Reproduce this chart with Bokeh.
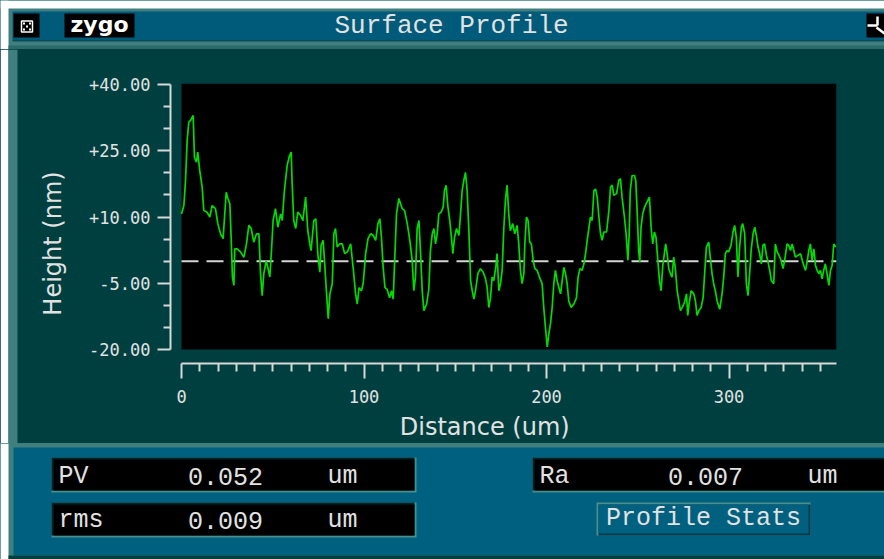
import math
from bokeh.plotting import figure
from bokeh.models import Range1d, FixedTicker, BoxAnnotation
from bokeh.layouts import column, row
from bokeh.embed import file_html
from bokeh.resources import INLINE
from bokeh.core.properties import value

# ------------------------------------------------------------------ data
distance_um = [
    0.0, 1.3, 2.2, 3.1, 4.0, 5.0, 6.4, 7.1, 8.2, 8.9, 10.0, 11.3, 12.2, 14.0, 15.5,
    16.8, 18.6, 19.9, 21.4, 22.8, 24.5, 25.4, 26.5, 27.2, 27.9, 28.7, 29.2, 30.5,
    32.3, 34.2, 35.6, 36.9, 38.2, 39.6, 41.1, 42.4, 43.3, 44.2, 45.1, 46.4, 47.3,
    48.4, 49.3, 50.2, 51.5, 52.8, 54.3, 55.2, 56.4, 57.9, 59.0, 60.1, 60.6, 61.5,
    62.6, 63.7, 65.2, 66.5, 68.0, 69.2, 70.3, 71.0, 72.5, 73.6, 74.7, 75.8, 76.5,
    77.6, 78.4, 79.5, 80.4, 81.3, 82.6, 83.5, 84.4, 85.3, 86.6, 88.1, 89.4, 90.9,
    92.7, 94.2, 95.4, 96.3, 97.3, 98.6, 99.6, 100.9, 102.2, 103.7, 105.1, 106.4,
    107.6, 108.7, 109.6, 110.5, 111.5, 112.7, 114.0, 115.1, 116.0, 116.7, 117.8,
    119.1, 120.9, 122.2, 123.7, 125.1, 126.4, 127.3, 128.2, 129.1, 130.1, 131.0,
    131.9, 132.8, 134.3, 135.5, 136.4, 137.4, 138.3, 139.2, 140.1, 141.0, 142.3,
    143.4, 144.1, 145.0, 145.9, 147.0, 147.9, 148.7, 149.6, 150.7, 152.0, 152.9,
    153.8, 154.7, 155.6, 156.5, 157.5, 158.4, 159.3, 160.2, 161.1, 162.4, 163.8,
    165.3, 166.6, 167.5, 168.4, 169.3, 170.2, 171.1, 172.2, 172.9, 173.9, 174.8,
    175.7, 176.6, 177.5, 178.4, 179.3, 180.2, 181.5, 182.6, 183.9, 184.8, 185.7,
    186.6, 187.6, 188.1, 189.0, 189.9, 190.8, 191.7, 192.7, 193.6, 194.9, 196.1,
    197.6, 198.5, 199.4, 200.4, 201.3, 202.2, 203.1, 204.0, 204.9, 205.8, 206.8,
    207.7, 208.6, 209.5, 210.4, 211.3, 212.2, 213.5, 215.0, 216.4, 217.3, 218.3,
    219.5, 220.5, 221.4, 222.3, 223.2, 224.1, 225.0, 226.0, 226.9, 227.8, 228.7,
    229.6, 230.5, 231.4, 232.9, 234.2, 235.1, 236.0, 236.9, 238.4, 239.6, 240.5,
    241.4, 242.7, 243.6, 244.6, 245.3, 245.9, 246.9, 248.2, 248.9, 249.6, 250.5,
    251.1, 251.8, 252.7, 253.8, 255.1, 256.4, 257.3, 258.2, 259.1, 260.0, 261.0,
    261.9, 262.8, 263.7, 264.6, 265.3, 266.1, 267.0, 267.9, 268.8, 269.7, 270.6,
    271.6, 272.5, 273.4, 274.3, 275.6, 276.7, 277.4, 278.2, 279.3, 280.7, 281.6,
    282.5, 283.5, 284.7, 285.8, 286.7, 287.6, 288.9, 289.8, 290.7, 291.6, 292.5,
    293.5, 294.9, 296.2, 297.1, 298.0, 298.9, 299.8, 301.1, 302.2, 303.1, 304.0,
    304.9, 305.8, 306.8, 307.5, 308.6, 309.5, 310.4, 311.3, 312.2, 313.2, 314.1,
    315.0, 315.9, 316.8, 317.7, 318.6, 319.5, 320.5, 321.4, 322.3, 323.2, 324.5,
    325.4, 326.4, 327.4, 328.5, 329.6, 330.5, 331.8, 332.7, 333.7, 334.6, 335.5,
    336.4, 337.7, 339.2, 340.1, 341.0, 341.9, 342.8, 343.7, 344.6, 345.5, 346.5,
    347.4, 348.3, 349.2, 350.1, 351.0, 351.9, 352.8, 353.7, 354.7, 355.6, 356.5,
    357.4, 358.5,
]
height_nm = [
    10.7, 12.6, 18.3, 27.3, 31.5, 31.9, 33.0, 23.5, 22.4, 24.7, 20.5, 16.8, 11.5, 11.1, 10.0,
    12.6, 11.9, 8.5, 6.2, 5.1, 15.6, 14.2, 13.0, 5.4, -3.6, -5.5, 2.8, 2.8,
    2.1, 0.9, 3.9, 8.1, 7.4, 4.3, 6.2, 6.2, -2.8, -7.8, -2.8, 0.1, -1.4,
    -3.6, 2.4, 9.2, 11.9, 7.7, 10.7, 9.2, 16.0, 21.7, 23.6, 24.7, 17.9, 9.2,
    7.4, 11.1, 10.4, 9.2, 14.5, 6.9, 3.9, 2.4, 9.2, 9.6, 1.7, -2.5, 3.6,
    4.7, -0.2, -7.4, -13.0, -7.4, -5.1, 6.2, 7.4, 3.2, 3.9, 3.9, 1.7, 2.1,
    3.9, -2.1, -7.4, -9.7, -6.0, -6.7, -4.9, 1.7, 5.1, 6.2, 5.8, 4.7,
    8.4, 9.6, 5.1, -1.4, -6.0, -6.4, -8.3, -6.7, -8.6, -1.0, 10.7,
    14.2, 11.9, 11.5, 8.5, 4.7, 0.2, -6.7, -3.6, 7.4, 9.2, 1.7,
    -6.7, -11.2, -9.7, -6.4, 2.4, 6.2, 7.4, 3.9, 6.2, 10.7, 11.1,
    12.3, 16.0, 17.2, 12.6, 9.2, 5.4, 1.7, 5.4, 7.4, 5.8, 10.7,
    16.0, 18.3, 20.1, 16.0, 6.6, -4.4, -6.7, -8.6, -6.7, -2.8, -1.7,
    -2.5, -4.0, -6.0, -10.5, -8.3, -3.6, -4.4, -1.4, 1.7, -6.7, -5.1,
    -2.1, 7.4, 13.8, 17.2, 10.7, 6.9, 8.5, 6.2, 8.1, 3.9, -2.1,
    -5.1, -2.8, 3.6, 10.0, 9.2, 4.3, 3.9, 0.2, -1.7, -2.1, -3.6,
    -5.1, -10.5, -14.9, -19.4, -16.4, -14.1, -10.5, -5.1, -2.1, -4.4, -6.0,
    -7.4, -4.4, -1.4, -2.8, -5.1, -9.0, -10.5, -9.7, -8.3, -3.6, -1.7,
    -2.1, -0.6, 1.7, 4.7, 7.4, 10.0, 9.2, 16.0, 16.3, 14.5, 10.0,
    6.2, 4.7, 6.6, 6.6, 11.5, 16.8, 17.2, 14.9, 15.3, 18.3, 18.7,
    14.5, 10.0, 6.2, 0.2, 6.2, 16.0, 19.4, 19.4, 18.3, 11.9, 2.4,
    -0.2, 7.7, 10.7, 12.3, 13.4, 14.5, 7.7, 3.9, 6.6, 5.4, 0.2,
    -4.4, -6.7, -1.0, 1.7, 3.9, 1.7, -1.7, -2.8, -3.6, 0.9, -1.7,
    -6.7, -9.0, -11.2, -10.5, -9.4, -7.4, -12.3, -9.4, -6.7, -7.4, -9.0,
    -12.3, -11.2, -10.5, -8.3, -2.5, 3.2, 4.3, 0.6, -2.8, -5.1, -6.7,
    -9.0, -10.9, -7.4, -3.6, 1.7, 2.4, 2.1, 3.6, 6.6, 8.1, 5.4,
    -3.6, 3.2, 7.7, 8.5, 6.2, -5.1, -7.8, -2.8, 2.8, 6.2, 7.7,
    5.8, 3.2, 1.7, -0.6, 3.6, 3.9, 1.3, -0.2, -2.1, -4.4, -5.1,
    3.9, 2.1, 1.3, 0.2, -1.7, 0.2, 3.9, 3.6, 2.4, 3.9, 2.4,
    0.9, 1.3, 1.7, 0.2, -1.0, -2.1, -0.2, 2.4, 3.9, 0.2, 2.8,
    -1.0, -2.1, -2.8, -2.1, -4.0, -2.1, -0.6, -2.8, -5.5, -2.1, -1.0,
    3.9, 3.2,
]
mean_height_nm = 0.0
profile_length_um = 358.9

y_major_ticks = [-20, -5, 10, 25, 40]
y_tick_labels = ["-20.00", "-5.00", "+10.00", "+25.00", "+40.00"]
y_minor_ticks = [-15, -10, 0, 5, 15, 20, 30, 35]
x_major_ticks = [0, 100, 200, 300]
x_tick_labels = ["0", "100", "200", "300"]
x_minor_ticks = [10, 20, 30, 40, 50, 60, 70, 80, 90, 110, 120, 130, 140, 150, 160,
                 170, 180, 190, 210, 220, 230, 240, 250, 260, 270, 280, 290, 310,
                 320, 330, 340, 350]

window_title = "Surface Profile"
y_label = "Height (nm)"
x_label = "Distance (um)"
stat_names = ["PV", "rms", "Ra"]
stat_values = ["0.052", "0.009", "0.007"]
stat_units = ["um", "um", "um"]
button_text = "Profile Stats"

# ------------------------------------------------------------------ style
WHITE = "#ffffff"
TEAL_LIGHT = "#3f7f7f"
TEAL_MED = "#2a6a6a"
TEAL_DARK = "#003f40"
BLUE_TITLE = "#005a7a"
BLUE_PANEL = "#00607f"
TXT = "#e2e2e2"
AXC = "#d8d8d8"
MONO = "Liberation Mono"
SANS = "DejaVu Sans"

W = 884


def chrome_fig(w, h, x0, x1, y_top, y_bot, bg):
    f = figure(width=w, height=h, x_range=Range1d(x0, x1), y_range=Range1d(y_bot, y_top),
               toolbar_location=None, output_backend="svg", min_border=0,
               x_axis_location=None, y_axis_location=None, title=None)
    f.grid.visible = False
    f.outline_line_color = None
    f.background_fill_color = bg
    f.border_fill_color = None
    f.styles = {"background-color": bg}
    return f


def box(f, l, r, t, b, color):
    f.quad(left=[l], right=[r], top=[t], bottom=[b], fill_color=color, line_color=None)


def mono_text(f, x, y, s, align, size="25px", color=TXT):
    f.text(x=[x], y=[y], text=[s], text_font=value(MONO), text_font_size=size,
           text_color=color, text_align=align, text_baseline="middle")


# ------------------------------------------------------------------ title bar (y 0..49)
top = chrome_fig(W, 49, 0, 884, 0, 49, TEAL_LIGHT)
box(top, 0, 884, 0, 8, WHITE)
box(top, 0, 8, 0, 49, WHITE)
box(top, 12, 884, 11, 39.5, BLUE_TITLE)
box(top, 12, 884, 39.5, 41, "#0d4a58")
box(top, 8, 884, 45, 49, TEAL_MED)
box(top, 13, 39, 13, 37, "#000000")
box(top, 64, 134, 13, 37, "#000000")
box(top, 866, 884, 13, 37, "#000000")
top.quad(left=[21], right=[32], top=[20.5], bottom=[31.5], fill_color=None,
         line_color=WHITE, line_width=1.5)
top.quad(left=[22.5, 28.5, 25.5, 22.5, 28.5], right=[24.5, 30.5, 27.5, 24.5, 30.5],
         top=[22, 22, 25, 28, 28], bottom=[24, 24, 27, 30, 30],
         fill_color=WHITE, line_color=None)
top.text(x=[99], y=[24], text=["zygo"], text_font=value(SANS),
         text_font_style="bold", text_font_size="22px", text_color=WHITE,
         text_align="center", text_baseline="middle")
mono_text(top, 451, 25.5, window_title, "center", size="26px")
top.multi_line(xs=[[867, 877], [877, 877], [876, 884]], ys=[[25, 25], [16, 25], [27, 33]],
               line_color=WHITE, line_width=2.5)

# ------------------------------------------------------------------ left side (x 0..70, y 49..443)
side = chrome_fig(70, 394, 0, 70, 49, 443, TEAL_DARK)
box(side, 0, 8, 49, 443, WHITE)
box(side, 8, 17, 49, 443, TEAL_LIGHT)
side.text(x=[52], y=[243], text=[y_label], angle=math.pi / 2, text_font=value(SANS),
          text_font_size="24px", text_color=TXT, text_align="center",
          text_baseline="middle")

# ------------------------------------------------------------------ plot (x 70..884, y 49..410)
px_per_um = 655.0 / profile_length_um
px_per_nm = 265.0 / 60.0
x_start = -11.0 / px_per_um
y_end = 40 + 1.0 / px_per_nm
y_start = -20 - 14.0 / px_per_nm

mid = figure(width=814, height=361, title=None,
             x_range=Range1d(x_start, profile_length_um), y_range=Range1d(y_start, y_end),
             toolbar_location=None, output_backend="svg",
             min_border_left=100, min_border_right=48, min_border_top=34,
             min_border_bottom=47)
mid.background_fill_color = TEAL_DARK
mid.border_fill_color = None
mid.styles = {"background-color": TEAL_DARK}
mid.outline_line_color = None
mid.grid.visible = False

mid.add_layout(BoxAnnotation(left=0, bottom=-20, fill_color="#000000", fill_alpha=1.0,
                             line_color=None, level="underlay"))

mid.line([0, profile_length_um], [mean_height_nm, mean_height_nm], line_color="#d4d4d4",
         line_width=2, line_dash="17 8")
mid.line(distance_um, height_nm, line_color="#00dc00", line_width=1.7)

ya = mid.yaxis[0]
ya.ticker = FixedTicker(ticks=y_major_ticks, minor_ticks=y_minor_ticks)
ya.major_label_overrides = dict(zip(y_major_ticks, y_tick_labels))
ya.bounds = (-20, 40)
xa = mid.xaxis[0]
xa.ticker = FixedTicker(ticks=x_major_ticks, minor_ticks=x_minor_ticks)
xa.major_label_overrides = dict(zip(x_major_ticks, x_tick_labels))
xa.bounds = (0, profile_length_um)

for ax in (xa, ya):
    ax.axis_line_color = AXC
    ax.axis_line_width = 2
    ax.major_tick_line_color = AXC
    ax.major_tick_line_width = 2
    ax.minor_tick_line_color = AXC
    ax.minor_tick_line_width = 2
    ax.major_tick_in = 0
    ax.minor_tick_in = 0
    ax.major_label_text_font = "DejaVu Sans Mono"
    ax.major_label_text_font_size = "17px"
    ax.major_label_text_color = TXT
ya.major_tick_out = 13
ya.minor_tick_out = 7
ya.major_label_standoff = 7
xa.major_tick_out = 15
xa.minor_tick_out = 8
xa.major_label_standoff = 11

# ------------------------------------------------------------------ x label strip (x 70..884, y 410..443)
xlab = chrome_fig(814, 33, 70, 884, 410, 443, TEAL_DARK)
xlab.text(x=[454], y=[426], text=[x_label], text_font=value(SANS), text_font_size="24px",
          text_color=TXT, text_align="center", text_baseline="middle")

# ------------------------------------------------------------------ stats panel (y 443..559)
bot = chrome_fig(W, 116, 0, 884, 443, 559, TEAL_LIGHT)
box(bot, 0, 8, 443, 559, WHITE)
box(bot, 13, 884, 447, 555, BLUE_PANEL)
box(bot, 8, 884, 555, 559, TEAL_DARK)

fields = [(52, 414, 458, 490), (52, 414, 503, 535), (533, 890, 458, 490)]
text_y = [476, 520, 476]
value_cx = [225, 225, 705]
unit_x = [327, 327, 807]
for (l, r, t, b), name, val, unit, ty, vcx, ux in zip(fields, stat_names, stat_values,
                                                      stat_units, text_y, value_cx, unit_x):
    box(bot, l - 1, r + 2, t - 1, b + 2, "#4a8e8e")
    box(bot, l - 1, r, t - 1, b, "#00262c")
    box(bot, l + 1, r, t + 1, b, "#000000")
    mono_text(bot, l + 6, ty, name, "left")
    mono_text(bot, vcx, ty, val, "center")
    mono_text(bot, ux, ty, unit, "left")

box(bot, 596, 810, 502, 535, "#4a8e8e")
box(bot, 598, 810, 504, 535, "#003a4e")
box(bot, 598, 808, 504, 533, BLUE_PANEL)
mono_text(bot, 703, 517.5, button_text, "center")

layout = column(top, row(side, column(mid, xlab, styles={"background-color": TEAL_DARK}),
                         styles={"background-color": TEAL_DARK}),
                bot, styles={"background-color": TEAL_DARK})
open("out.html", "w").write(file_html(layout, INLINE))
